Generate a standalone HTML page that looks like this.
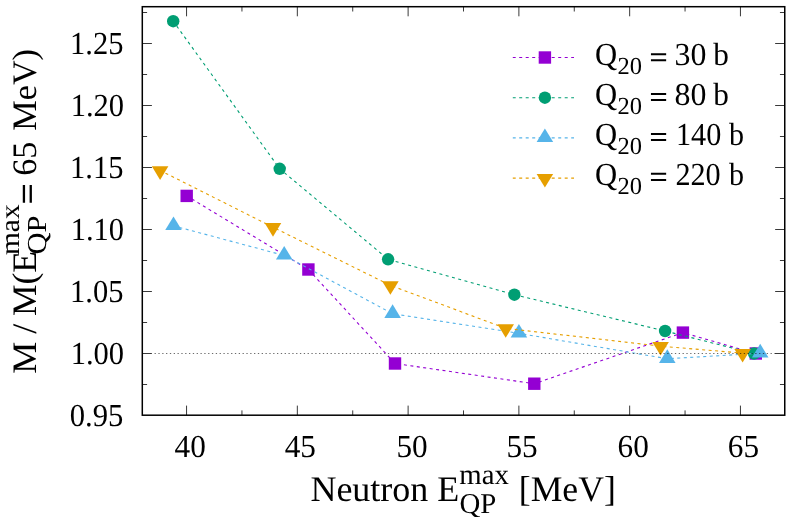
<!DOCTYPE html>
<html><head><meta charset="utf-8"><title>plot</title>
<style>
html,body{margin:0;padding:0;background:#fff;}
body{width:789px;height:517px;overflow:hidden;font-family:"Liberation Serif",serif;}
svg{display:block;}
#wrap{width:789px;height:517px;will-change:transform;}
</style></head><body><div id="wrap">
<svg width="789" height="517" viewBox="0 0 789 517">
<path d="M186.55 415.2V405.60M186.55 6.7V16.30M297.33 415.2V405.60M297.33 6.7V16.30M408.11 415.2V405.60M408.11 6.7V16.30M518.89 415.2V405.60M518.89 6.7V16.30M629.67 415.2V405.60M629.67 6.7V16.30M740.45 415.2V405.60M740.45 6.7V16.30M241.94 415.2V410.40M241.94 6.7V11.50M352.72 415.2V410.40M352.72 6.7V11.50M463.50 415.2V410.40M463.50 6.7V11.50M574.28 415.2V410.40M574.28 6.7V11.50M685.06 415.2V410.40M685.06 6.7V11.50M142.3 353.50H151.90M784.75 353.50H775.15M142.3 291.50H151.90M784.75 291.50H775.15M142.3 229.50H151.90M784.75 229.50H775.15M142.3 167.50H151.90M784.75 167.50H775.15M142.3 105.50H151.90M784.75 105.50H775.15M142.3 43.50H151.90M784.75 43.50H775.15M142.3 384.50H147.10M784.75 384.50H779.95M142.3 322.50H147.10M784.75 322.50H779.95M142.3 260.50H147.10M784.75 260.50H779.95M142.3 198.50H147.10M784.75 198.50H779.95M142.3 136.50H147.10M784.75 136.50H779.95M142.3 74.50H147.10M784.75 74.50H779.95M142.3 12.50H147.10M784.75 12.50H779.95" stroke="#000" stroke-width="0.78" fill="none"/>
<path d="M512.8 57.5H574.0" stroke="#9400D3" stroke-width="1.1" stroke-dasharray="3 3.5" stroke-dashoffset="0.1" fill="none"/>
<rect x="538.70" y="51.30" width="12.40" height="12.40" fill="#9400D3"/>
<path d="M186.70 195.90L308.40 269.50L395.00 363.50L534.30 383.70L682.90 332.60L755.80 353.50" stroke="#9400D3" stroke-width="1.1" stroke-dasharray="3 3.5" stroke-dashoffset="0.45" fill="none"/>
<rect x="180.50" y="189.70" width="12.40" height="12.40" fill="#9400D3"/>
<rect x="302.20" y="263.30" width="12.40" height="12.40" fill="#9400D3"/>
<rect x="388.80" y="357.30" width="12.40" height="12.40" fill="#9400D3"/>
<rect x="528.10" y="377.50" width="12.40" height="12.40" fill="#9400D3"/>
<rect x="676.70" y="326.40" width="12.40" height="12.40" fill="#9400D3"/>
<rect x="749.60" y="347.30" width="12.40" height="12.40" fill="#9400D3"/>
<path d="M512.8 97.7H574.0" stroke="#009E73" stroke-width="1.1" stroke-dasharray="3 3.5" stroke-dashoffset="0.1" fill="none"/>
<circle cx="544.90" cy="97.70" r="6.20" fill="#009E73"/>
<path d="M173.20 21.20L279.70 168.80L388.10 259.30L514.40 294.70L665.10 331.00L754.10 353.50" stroke="#009E73" stroke-width="1.1" stroke-dasharray="3 3.5" stroke-dashoffset="0.45" fill="none"/>
<circle cx="173.20" cy="21.20" r="6.20" fill="#009E73"/>
<circle cx="279.70" cy="168.80" r="6.20" fill="#009E73"/>
<circle cx="388.10" cy="259.30" r="6.20" fill="#009E73"/>
<circle cx="514.40" cy="294.70" r="6.20" fill="#009E73"/>
<circle cx="665.10" cy="331.00" r="6.20" fill="#009E73"/>
<circle cx="754.10" cy="353.50" r="6.20" fill="#009E73"/>
<path d="M512.8 137.9H574.0" stroke="#56B4E9" stroke-width="1.1" stroke-dasharray="3 3.5" stroke-dashoffset="0.1" fill="none"/>
<path d="M544.90 128.45L536.63 142.03L553.17 142.03Z" fill="#56B4E9"/>
<path d="M173.50 225.85L284.20 255.45L392.60 313.75L518.90 333.35L667.30 358.75L760.20 353.25" stroke="#56B4E9" stroke-width="1.1" stroke-dasharray="3 3.5" stroke-dashoffset="0.45" fill="none"/>
<path d="M173.50 216.40L165.23 229.98L181.77 229.98Z" fill="#56B4E9"/>
<path d="M284.20 246.00L275.93 259.58L292.47 259.58Z" fill="#56B4E9"/>
<path d="M392.60 304.30L384.33 317.88L400.87 317.88Z" fill="#56B4E9"/>
<path d="M518.90 323.90L510.63 337.48L527.17 337.48Z" fill="#56B4E9"/>
<path d="M667.30 349.30L659.03 362.88L675.57 362.88Z" fill="#56B4E9"/>
<path d="M760.20 343.80L751.93 357.38L768.47 357.38Z" fill="#56B4E9"/>
<path d="M512.8 178.1H574.0" stroke="#E69F00" stroke-width="1.1" stroke-dasharray="3 3.5" stroke-dashoffset="0.1" fill="none"/>
<path d="M544.90 187.55L536.63 173.97L553.17 173.97Z" fill="#E69F00"/>
<path d="M160.10 170.45L273.00 227.20L390.40 285.35L505.70 328.35L660.60 346.15L742.60 353.15" stroke="#E69F00" stroke-width="1.1" stroke-dasharray="3 3.5" stroke-dashoffset="0.45" fill="none"/>
<path d="M160.10 179.90L151.83 166.32L168.37 166.32Z" fill="#E69F00"/>
<path d="M273.00 236.65L264.73 223.07L281.27 223.07Z" fill="#E69F00"/>
<path d="M390.40 294.80L382.13 281.22L398.67 281.22Z" fill="#E69F00"/>
<path d="M505.70 337.80L497.43 324.22L513.97 324.22Z" fill="#E69F00"/>
<path d="M660.60 355.60L652.33 342.02L668.87 342.02Z" fill="#E69F00"/>
<path d="M742.60 362.60L734.33 349.02L750.87 349.02Z" fill="#E69F00"/>
<path d="M154.558 353.5H775.670" stroke="#000" stroke-opacity="0.58" stroke-width="1" stroke-dasharray="1.3 2.526" fill="none"/>
<rect x="142.3" y="6.7" width="642.45" height="408.50" fill="none" stroke="#000" stroke-width="1.5"/>
<g font-family="Liberation Serif" fill="#000" text-rendering="geometricPrecision">
<text transform="translate(123.40 426.20) scale(1.0 1.045)" font-size="30.67" text-anchor="end">0.95</text>
<text transform="translate(124.10 364.20) scale(0.995 1.045)" font-size="30.67" text-anchor="end">1.00</text>
<text transform="translate(123.50 302.20) scale(0.995 1.045)" font-size="30.67" text-anchor="end">1.05</text>
<text transform="translate(124.10 240.20) scale(0.995 1.045)" font-size="30.67" text-anchor="end">1.10</text>
<text transform="translate(123.50 178.20) scale(0.995 1.045)" font-size="30.67" text-anchor="end">1.15</text>
<text transform="translate(124.10 116.20) scale(0.995 1.045)" font-size="30.67" text-anchor="end">1.20</text>
<text transform="translate(123.50 54.20) scale(0.995 1.045)" font-size="30.67" text-anchor="end">1.25</text>
<text transform="translate(190.20 457.00) scale(1.02 1.045)" font-size="30.67" text-anchor="middle">40</text>
<text transform="translate(300.30 457.00) scale(1.02 1.045)" font-size="30.67" text-anchor="middle">45</text>
<text transform="translate(412.05 457.00) scale(1.02 1.045)" font-size="30.67" text-anchor="middle">50</text>
<text transform="translate(522.10 457.00) scale(1.02 1.045)" font-size="30.67" text-anchor="middle">55</text>
<text transform="translate(633.20 457.00) scale(1.02 1.045)" font-size="30.67" text-anchor="middle">60</text>
<text transform="translate(743.40 457.00) scale(1.02 1.045)" font-size="30.67" text-anchor="middle">65</text>
<text transform="translate(595.00 65.40) scale(1.0 1.045)" font-size="30.67">Q</text>
<text x="617.60" y="74.40" font-size="24.5">20</text>
<path d="M650.95 54.15H666.15M650.95 60.20H666.15" stroke="#000" stroke-width="2.0" fill="none"/>
<text transform="translate(674.60 65.40) scale(1.04 1.045)" font-size="30.67">30</text>
<text transform="translate(713.20 65.40) scale(1.02 1.045)" font-size="30.67">b</text>
<text transform="translate(595.00 105.30) scale(1.0 1.045)" font-size="30.67">Q</text>
<text x="617.60" y="114.30" font-size="24.5">20</text>
<path d="M650.95 94.05H666.15M650.95 100.10H666.15" stroke="#000" stroke-width="2.0" fill="none"/>
<text transform="translate(674.60 105.30) scale(1.04 1.045)" font-size="30.67">80</text>
<text transform="translate(713.20 105.30) scale(1.02 1.045)" font-size="30.67">b</text>
<text transform="translate(595.00 145.20) scale(1.0 1.045)" font-size="30.67">Q</text>
<text x="617.60" y="154.20" font-size="24.5">20</text>
<path d="M650.95 133.95H666.15M650.95 140.00H666.15" stroke="#000" stroke-width="2.0" fill="none"/>
<text transform="translate(676.00 145.20) scale(0.986 1.045)" font-size="30.67">140</text>
<text transform="translate(728.90 145.20) scale(0.98 1.045)" font-size="30.67">b</text>
<text transform="translate(595.00 185.10) scale(1.0 1.045)" font-size="30.67">Q</text>
<text x="617.60" y="194.10" font-size="24.5">20</text>
<path d="M650.95 173.85H666.15M650.95 179.90H666.15" stroke="#000" stroke-width="2.0" fill="none"/>
<text transform="translate(675.40 185.10) scale(0.985 1.045)" font-size="30.67">220</text>
<text transform="translate(728.90 185.10) scale(0.98 1.045)" font-size="30.67">b</text>
<text x="310.40" y="501.00" font-size="36">Neutron E</text>
<text x="459.30" y="483.80" font-size="28.8">max</text>
<text x="459.50" y="512.50" font-size="28.8">QP</text>
<text transform="translate(518.80 501.00) scale(0.99 1.0)" font-size="36">[MeV]</text>
<text transform="translate(35.90 373.80) rotate(-90) scale(1.0 0.954)" font-size="36">M</text>
<text transform="translate(35.90 333.70) rotate(-90) scale(1.0 0.954)" font-size="36">/</text>
<text transform="translate(35.90 316.00) rotate(-90) scale(0.985 0.954)" font-size="36">M(E</text>
<text transform="translate(19.00 255.00) rotate(-90) scale(1.02 0.954)" font-size="28.8">max</text>
<text transform="translate(45.60 254.50) rotate(-90) scale(1.06 0.954)" font-size="28.8">QP</text>
<path d="M23.93 185.1V202.7M30.75 185.1V202.7" stroke="#000" stroke-width="2.3" fill="none"/>
<text transform="translate(35.90 175.80) rotate(-90) scale(0.95 0.954)" font-size="36">65</text>
<text transform="translate(35.90 130.70) rotate(-90) scale(0.95 0.954)" font-size="36">MeV)</text>
</g>
</svg>
</div></body></html>
